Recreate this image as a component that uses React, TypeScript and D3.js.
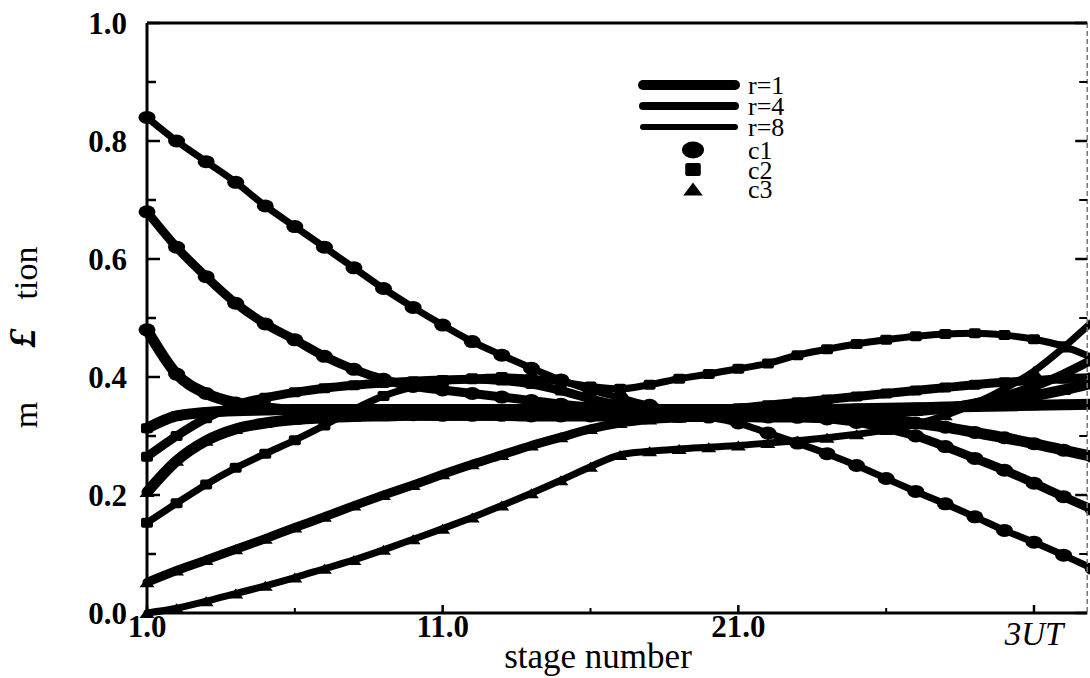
import React from "react";
import * as d3 from "d3";

// ---------- data ----------
const stages = [1,2,3,4,5,6,7,8,9,10,11,12,13,14,15,16,17,18,19,20,21,22,23,24,25,26,27,28,29,30,31,32,33];

const c1_r8 = [0.84,0.80,0.765,0.73,0.69,0.655,0.62,0.585,0.55,0.518,0.488,0.46,0.437,0.415,0.395,0.378,0.365,0.352,0.342,0.332,0.322,0.305,0.288,0.27,0.25,0.228,0.206,0.185,0.163,0.14,0.12,0.098,0.075];
const c1_r4 = [0.68,0.62,0.57,0.525,0.49,0.463,0.435,0.413,0.396,0.384,0.378,0.372,0.366,0.36,0.354,0.349,0.345,0.342,0.34,0.338,0.336,0.334,0.332,0.329,0.323,0.313,0.3,0.282,0.262,0.242,0.22,0.197,0.175];
const c1_r1 = [0.48,0.405,0.372,0.356,0.348,0.343,0.34,0.338,0.337,0.336,0.335,0.335,0.335,0.334,0.334,0.334,0.334,0.333,0.333,0.333,0.333,0.332,0.332,0.331,0.33,0.327,0.322,0.315,0.306,0.297,0.287,0.276,0.265];

const c2_r8 = [0.153,0.186,0.218,0.246,0.27,0.293,0.318,0.345,0.368,0.383,0.392,0.398,0.40,0.398,0.392,0.384,0.38,0.387,0.397,0.405,0.414,0.423,0.437,0.447,0.456,0.463,0.469,0.473,0.474,0.471,0.464,0.452,0.432];
const c2_r4 = [0.265,0.30,0.33,0.352,0.365,0.374,0.381,0.386,0.39,0.393,0.395,0.396,0.394,0.388,0.377,0.363,0.352,0.345,0.342,0.343,0.347,0.352,0.357,0.362,0.367,0.372,0.377,0.382,0.387,0.391,0.394,0.397,0.399];
const c2_r1 = [0.313,0.334,0.34,0.343,0.344,0.345,0.345,0.345,0.345,0.345,0.345,0.345,0.345,0.345,0.345,0.345,0.345,0.345,0.345,0.345,0.345,0.345,0.345,0.345,0.346,0.347,0.348,0.349,0.35,0.351,0.352,0.353,0.354];

const c3_r8 = [0.0,0.008,0.02,0.033,0.046,0.06,0.075,0.09,0.107,0.125,0.143,0.162,0.182,0.203,0.225,0.248,0.268,0.274,0.278,0.281,0.284,0.288,0.292,0.297,0.303,0.31,0.32,0.335,0.355,0.38,0.41,0.45,0.495];
const c3_r4 = [0.052,0.072,0.09,0.108,0.126,0.145,0.163,0.182,0.20,0.217,0.235,0.252,0.268,0.284,0.298,0.312,0.322,0.328,0.331,0.333,0.334,0.335,0.336,0.337,0.338,0.34,0.343,0.348,0.356,0.368,0.384,0.405,0.43];
const c3_r1 = [0.205,0.258,0.292,0.312,0.322,0.328,0.331,0.333,0.334,0.335,0.335,0.335,0.335,0.335,0.335,0.335,0.336,0.336,0.336,0.336,0.336,0.336,0.337,0.337,0.338,0.34,0.343,0.347,0.353,0.36,0.368,0.378,0.39];

const refluxLabels = ["r=1", "r=4", "r=8"];
const componentLabels = ["c1", "c2", "c3"];

const xMajorTicks = [1, 11, 21, 31];
const xMajorLabels = ["1.0", "11.0", "21.0", "3UT"];
const xMinorTicks = [6, 16, 26];
const yMajorTicks = [0, 0.2, 0.4, 0.6, 0.8, 1.0];
const yMajorLabels = ["0.0", "0.2", "0.4", "0.6", "0.8", "1.0"];
const yMinorTicks = [0.1, 0.3, 0.5, 0.7, 0.9];

const series = [
  { r: "r=8", c: "c1", values: c1_r8 },
  { r: "r=4", c: "c1", values: c1_r4 },
  { r: "r=1", c: "c1", values: c1_r1 },
  { r: "r=8", c: "c2", values: c2_r8 },
  { r: "r=4", c: "c2", values: c2_r4 },
  { r: "r=1", c: "c2", values: c2_r1 },
  { r: "r=8", c: "c3", values: c3_r8 },
  { r: "r=4", c: "c3", values: c3_r4 },
  { r: "r=1", c: "c3", values: c3_r1 },
];

// ---------- styles ----------
const W = 1090, H = 678;
const lineWidth: Record<string, number> = { "r=1": 11, "r=4": 9, "r=8": 7 };
const legendWidth: Record<string, number> = { "r=1": 10, "r=4": 8, "r=8": 6 };
const FONT = "'Liberation Serif', 'Times New Roman', serif";

function Marker({ type, x, y, s = 1 }: { type: string; x: number; y: number; s?: number }) {
  if (type === "c1") return <ellipse cx={x} cy={y} rx={8.5 * s} ry={6.5 * s} fill="#000" />;
  if (type === "c2") return <rect x={x - 6 * s} y={y - 5 * s} width={12 * s} height={10 * s} rx={2} fill="#000" />;
  const w = 7.5 * s, h = 10 * s;
  return <path d={`M${x - w},${y + h / 2}L${x},${y - h / 2}L${x + w},${y + h / 2}Z`} fill="#000" />;
}

export default function App() {
  const x = d3.scaleLinear().domain([1, 31]).range([147, 1034]);
  const y = d3.scaleLinear().domain([0, 1]).range([613, 23]);
  const xRight = x(32.8);
  const line = d3
    .line<number>()
    .x((_, i) => x(stages[i]))
    .y((d) => y(d))
    .curve(d3.curveMonotoneX);

  return (
    <svg
      width={W}
      height={H}
      style={{ position: "absolute", left: 0, top: 0, background: "#fff" }}
      fontFamily={FONT}
    >
      <rect x={0} y={0} width={W} height={H} fill="#fff" />

      {/* curves */}
      <g fill="none" stroke="#000" strokeLinejoin="round" strokeLinecap="round">
        {series.map((s, i) => (
          <path key={i} d={line(s.values) || ""} strokeWidth={lineWidth[s.r]} />
        ))}
      </g>
      <g>
        {series.map((s, i) =>
          s.values.map((v, j) => (
            <Marker key={`${i}-${j}`} type={s.c} x={x(stages[j])} y={y(v)} />
          ))
        )}
      </g>

      {/* frame */}
      <line x1={x(1)} x2={x(1)} y1={y(1)} y2={y(0)} stroke="#000" strokeWidth={3} />
      <line x1={x(1)} x2={xRight} y1={y(1)} y2={y(1)} stroke="#000" strokeWidth={3} />
      <line x1={x(1) - 2} x2={xRight} y1={y(0)} y2={y(0)} stroke="#000" strokeWidth={3} />
      <line x1={xRight} x2={xRight} y1={y(1)} y2={y(0)} stroke="#777" strokeWidth={1.5} strokeDasharray="5,3" />

      {/* y ticks */}
      {yMajorTicks.map((t) => (
        <g key={`ym${t}`}>
          <line x1={x(1)} x2={x(1) + 13} y1={y(t)} y2={y(t)} stroke="#000" strokeWidth={2.5} />
          <line x1={xRight} x2={xRight - 12} y1={y(t)} y2={y(t)} stroke="#000" strokeWidth={2.5} />
        </g>
      ))}
      {yMinorTicks.map((t) => (
        <g key={`yn${t}`}>
          <line x1={x(1)} x2={x(1) + 9} y1={y(t)} y2={y(t)} stroke="#000" strokeWidth={2.5} />
          <line x1={xRight} x2={xRight - 8} y1={y(t)} y2={y(t)} stroke="#000" strokeWidth={2} />
        </g>
      ))}
      {yMajorTicks.map((t, i) => (
        <text
          key={`yl${t}`}
          x={127}
          y={y(t)}
          dy="0.34em"
          textAnchor="end"
          fontSize={31}
          fontWeight="bold"
          fill="#000"
        >
          {yMajorLabels[i]}
        </text>
      ))}

      {/* x ticks */}
      {xMajorTicks.map((t) => (
        <line key={`xm${t}`} x1={x(t)} x2={x(t)} y1={y(0)} y2={y(0) - 8} stroke="#000" strokeWidth={2.5} />
      ))}
      {xMinorTicks.map((t) => (
        <line key={`xn${t}`} x1={x(t)} x2={x(t)} y1={y(0)} y2={y(0) - 5} stroke="#000" strokeWidth={2} />
      ))}
      {xMajorTicks.map((t, i) => {
        const last = i === xMajorTicks.length - 1;
        return (
          <text
            key={`xl${t}`}
            x={x(t)}
            y={last ? 645 : 637}
            textAnchor="middle"
            fontSize={last ? 33 : 31}
            fontWeight={last ? "normal" : "bold"}
            fontStyle={last ? "italic" : "normal"}
            fill="#000"
          >
            {xMajorLabels[i]}
          </text>
        );
      })}

      {/* axis titles */}
      <text x={598} y={668} textAnchor="middle" fontSize={35} fill="#000">
        stage number
      </text>
      <g fill="#000">
        <text transform="translate(37,415) rotate(-90)" textAnchor="middle" fontSize={34}>m</text>
        <text transform="translate(35,338) rotate(-90)" textAnchor="middle" fontSize={38} fontWeight="bold" fontStyle="italic">£</text>
        <text transform="translate(37,273) rotate(-90)" textAnchor="middle" fontSize={34}>tion</text>
      </g>

      {/* legend */}
      <g>
        {refluxLabels.map((r, i) => (
          <g key={r}>
            <line
              x1={643}
              x2={735}
              y1={85 + i * 21}
              y2={85 + i * 21}
              stroke="#000"
              strokeWidth={legendWidth[r]}
              strokeLinecap="round"
            />
            <text x={748} y={85 + i * 21} dy="0.35em" fontSize={26} fill="#000">
              {r}
            </text>
          </g>
        ))}
        {componentLabels.map((c, i) => (
          <g key={c}>
            <Marker type={c} x={693} y={150 + i * 19.5} s={1.3} />
            <text x={748} y={150 + i * 19.5} dy="0.35em" fontSize={26} fill="#000">
              {c}
            </text>
          </g>
        ))}
      </g>
    </svg>
  );
}
